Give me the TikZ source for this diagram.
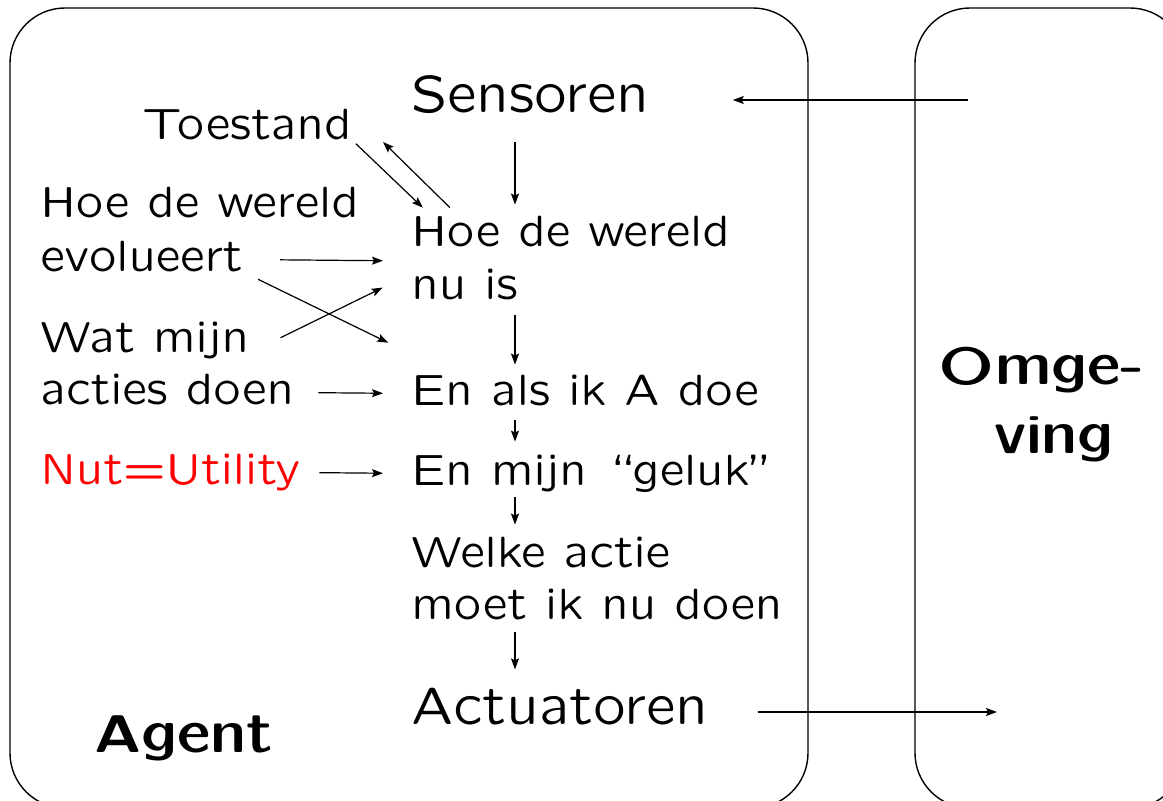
\documentclass[tikz,border=0pt]{standalone}
\usepackage{tikz}
\usetikzlibrary{calc,arrows.meta}

% slide fonts, at any size
\DeclareFontFamily{OT1}{slidess}{}
\DeclareFontShape{OT1}{slidess}{m}{n}{<-> lcmss8}{}
\DeclareFontShape{OT1}{slidess}{b}{n}{<-> lcmssb8}{}
\newcommand{\slidesf}{\fontencoding{OT1}\fontfamily{slidess}\fontseries{m}\fontshape{n}}
\newcommand{\slidebf}{\fontencoding{OT1}\fontfamily{slidess}\fontseries{b}\fontshape{n}}

\tikzset{
  tekst/.style={anchor=base west, inner sep=0pt, text height=16.7pt, text depth=4.2pt,
    font=\slidesf\fontsize{21.9}{26}\selectfont},
  groot/.style={tekst, text height=21pt, text depth=5.2pt,
    font=\slidesf\fontsize{26.2}{31}\selectfont},
  vet/.style={inner sep=0pt, font=\slidebf\fontsize{26.5}{32}\selectfont},
  pijl/.style={-{Stealth[length=5.5pt,width=4pt,inset=1pt]}, line width=0.6pt},
  blok/.style={line width=0.7pt, rounded corners=27.5pt},
}

\begin{document}
\begin{tikzpicture}[x=0.5pt, y=-0.5pt]
    \useasboundingbox (0,0) rectangle (1163,801);

    %Boxes
    \begin{scope}
    \clip (0,0) rectangle (1163,801);
    \draw[blok] (10,8) rectangle (808,808);
    \draw[blok] (915,8) rectangle (1185,808);
    \end{scope}

    %Middle column
    \node[groot] (sens) at (411,113) {Sensoren};
    \node[tekst] (wer1) at (411,247) {Hoe de wereld};
    \node[tekst] (wer2) at (411,300) {nu is};
    \node[tekst] (als) at (411,406) {En als ik A doe};
    \node[tekst] (geluk) at (411,486) {En mijn ``geluk''};
    \node[tekst] (welke1) at (411,568) {Welke actie};
    \node[tekst] (welke2) at (411,620) {moet ik nu doen};
    \node[groot] (act) at (411,725) {Actuatoren};

    %Left column
    \node[tekst, anchor=base east] (toest) at (352,140) {Toestand};
    \node[tekst] (hoe) at (40,218) {Hoe de wereld};
    \node[tekst] (evol) at (40,272) {evolueert};
    \node[tekst] (wat) at (40,353) {Wat mijn};
    \node[tekst] (acties) at (40,405) {acties doen};
    \node[tekst, red] (nut) at (40,485) {Nut=Utility};

    %Box titles
    \node[vet, anchor=base west] (agent) at (94,753) {Agent};
    \node[vet, anchor=base] (omg1) at (1042,385) {Omge-};
    \node[vet, anchor=base] (omg2) at (1054,454) {ving};

    %Arrows
    \coordinate (as) at (515,0);
    \coordinate (inval) at (968,100);
    \coordinate (uitval) at (997,712);
    \draw[pijl, shorten >=41.5pt] (inval) -- (inval -| sens.east);
    \draw[pijl, shorten <=24.5pt] (act.east |- uitval) -- (uitval);

    \draw[pijl, shorten <=9pt, shorten >=4.3pt] (sens.south -| as) -- (wer1.north -| as);
    \draw[pijl, shorten <=3.3pt, shorten >=3.8pt] (wer2.south -| as) -- (als.north -| as);
    \draw[pijl, shorten <=2.8pt, shorten >=5.3pt] (als.south -| as) -- (geluk.north -| as);
    \draw[pijl, shorten <=1.3pt, shorten >=4.8pt] (geluk.south -| as) -- (welke1.north -| as);
    \draw[pijl, shorten <=1.8pt, shorten >=6.6pt] (welke2.south -| as) -- (act.north -| as);

    \draw[pijl, shorten <=2.7pt, shorten >=4pt] (toest.base east) -- ([xshift=8.8pt]wer1.north west);
    \draw[pijl, shorten <=4pt, shorten >=1.4pt] ([xshift=22.3pt]wer1.north west) -- ([xshift=14.5pt]toest.base east);

    \coordinate (naar-wer) at ($(wer1.west)!0.5!(wer2.west)$);
    \coordinate (naar-wer2) at ($(wer1.west)!0.74!(wer2.west)$);
    \coordinate (naar-als) at ($(wer2.south west)!0.71!(als.north west)$);
    \draw[pijl, shorten <=18.5pt, shorten >=14pt] (evol.east) -- (naar-wer);
    \draw[pijl, shorten <=8.3pt, shorten >=12.7pt] (evol.base east) -- (naar-als);
    \draw[pijl, shorten <=17.3pt, shorten >=15.8pt] (wat.base east) -- (naar-wer2);
    \draw[pijl, shorten <=12pt, shorten >=14pt] (acties.east) -- (als.west);
    \draw[pijl, shorten <=9.5pt, shorten >=14pt] (nut.east) -- (geluk.west);
\end{tikzpicture}
\end{document}
